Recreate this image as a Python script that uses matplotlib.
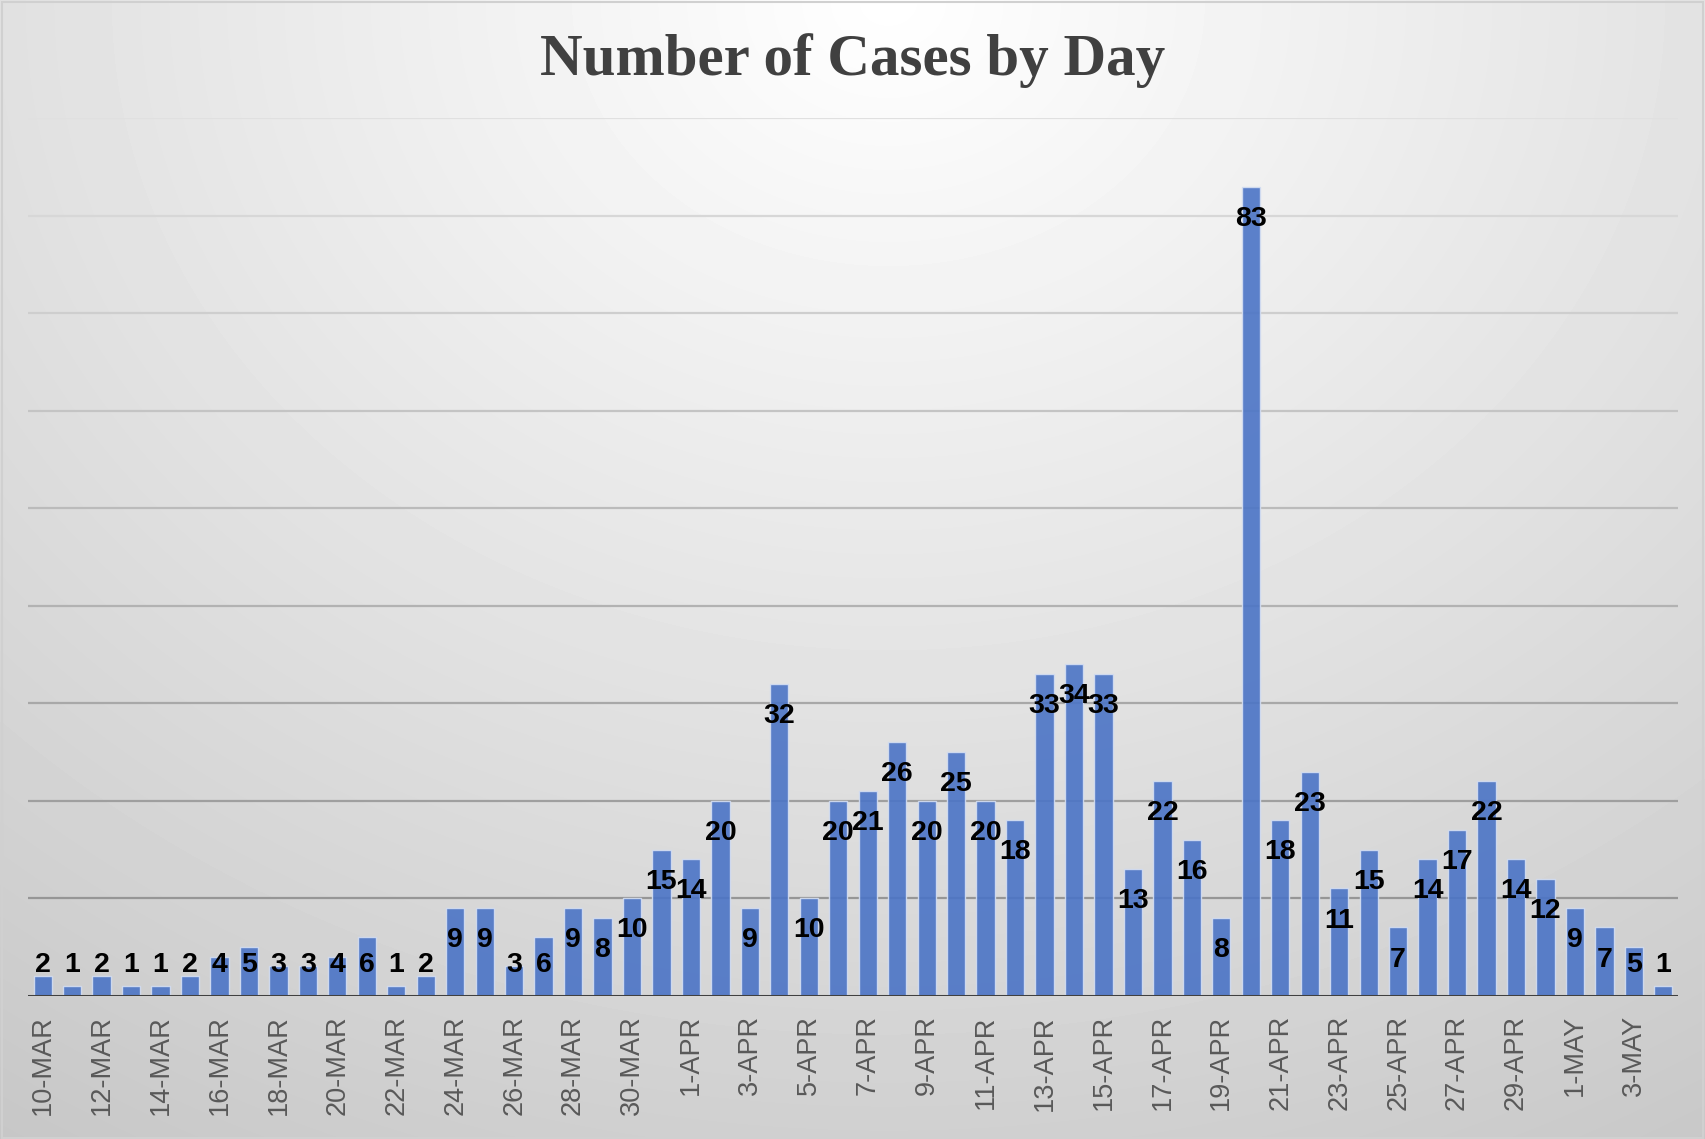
import numpy as np
import matplotlib
matplotlib.use('Agg')
import matplotlib.pyplot as plt

# datos
months = ['MAR'] * 22 + ['APR'] * 30 + ['MAY'] * 4
days = list(range(10, 32)) + list(range(1, 31)) + list(range(1, 5))
dates = [f'{d}-{m}' for d, m in zip(days, months)]
cases = [2, 1, 2, 1, 1, 2, 4, 5, 3, 3, 4, 6, 1, 2, 9, 9, 3, 6, 9, 8, 10, 15,
         14, 20, 9, 32, 10, 20, 21, 26, 20, 25, 20, 18, 33, 34, 33, 13, 22, 16,
         8, 83, 18, 23, 11, 15, 7, 14, 17, 22, 14, 12,
         9, 7, 5, 1]

fig = plt.figure(figsize=(17.05, 11.39), dpi=100)

# fondo con degradado radial (blanco arriba al centro, gris en las esquinas)
bg = fig.add_axes([0, 0, 1, 1], zorder=-10)
h, w = 300, 450
yy, xx = np.mgrid[0:h, 0:w]
dist = np.sqrt(((xx - w * 0.52) / w) ** 2 + ((yy - 0) / h * 0.8) ** 2)
dist = np.clip(dist / 0.95, 0, 1)
shade = 1.0 - 0.22 * dist
bg.imshow(shade, cmap='gray', vmin=0, vmax=1, aspect='auto',
          extent=[0, 1, 0, 1], origin='upper', interpolation='bilinear')
bg.set_xlim(0, 1)
bg.set_ylim(0, 1)
bg.axis('off')
bg.add_patch(plt.Rectangle((0.001, 0.001), 0.998, 0.997, fill=False,
                           edgecolor='#D0D0D0', linewidth=1.5))

ax = fig.add_axes([0.0164, 0.1258, 0.9678, 0.7702])
ax.set_facecolor('none')

x = np.arange(len(cases))
ax.set_xlim(-0.5, len(cases) - 0.5)
ax.set_ylim(0, 90)

# lineas de la cuadricula, mas oscuras abajo
for g in range(10, 91, 10):
    c = 0.55 + 0.33 * (g / 90)
    ax.axhline(g, color=(c, c, c), linewidth=1.6, zorder=1)

ax.bar(x, cases, width=0.62, color='#4B74C6', alpha=0.9,
       edgecolor='#D4DEF2', linewidth=1.0, zorder=2)

for xi, v in zip(x, cases):
    ax.text(xi, max(v - 3.3, 3.2), str(v), ha='center', va='center',
            fontsize=20.5, fontweight='bold', family='Liberation Sans',
            color='black', zorder=4)

ax.axhline(0, color='#404040', linewidth=2.2, zorder=3)

ax.set_xticks(x[::2])
ax.set_xticklabels(dates[::2], rotation=90, fontsize=19.5,
                   family='Liberation Sans', color='#595959', va='top')
ax.tick_params(axis='x', length=0, pad=14)
ax.set_yticks([])
for s in ax.spines.values():
    s.set_visible(False)

fig.text(0.5, 0.947, 'Number of Cases by Day', ha='center', va='center',
         fontsize=42.5, fontweight='bold', family='Liberation Serif',
         color='#404040')

plt.savefig('out.png', dpi=100)
